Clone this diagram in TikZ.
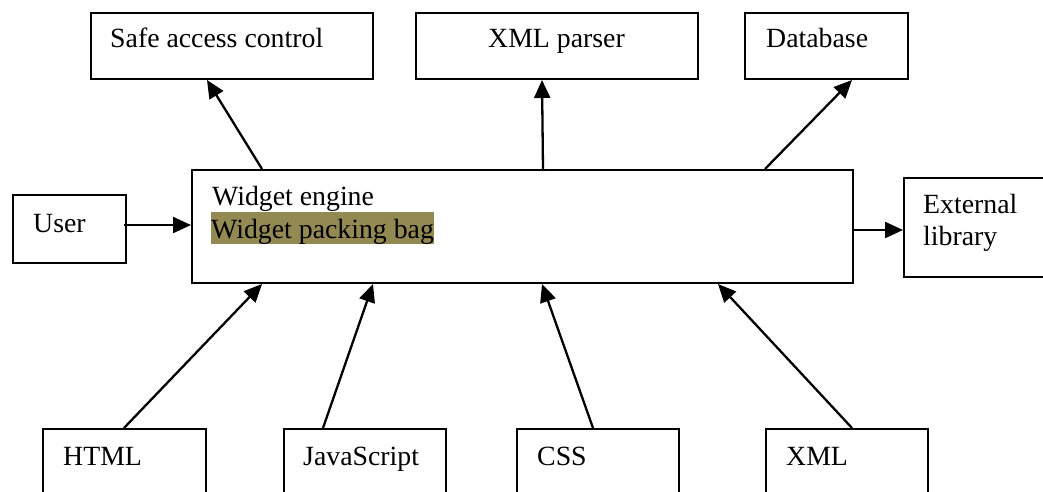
\documentclass[tikz,border=0pt]{standalone}
\usepackage{fontspec}
\setmainfont{Liberation Serif}
\usetikzlibrary{arrows.meta}
\definecolor{hl}{RGB}{147,137,83}
\begin{document}
\begin{tikzpicture}[x=1pt,y=-1pt,
  box/.style={draw=black,line width=2pt,rectangle,inner sep=0pt,anchor=north west},
  lbl/.style={anchor=base west,inner sep=0pt,font=\fontsize{27.8}{32}\selectfont},
  arr/.style={draw=black,line width=2.3pt,-{Triangle[length=18pt,width=16pt]}}]
\useasboundingbox (0,0) rectangle (1043,492);
\clip (0,0) rectangle (1043,492);
\fill[white] (0,0) rectangle (1043,492);
% boxes
\node[box,minimum width=282pt,minimum height=66pt] (sac) at (90,12) {};
\node[box,minimum width=282pt,minimum height=66pt] (xmlp) at (415,12) {};
\node[box,minimum width=163pt,minimum height=66pt] (db) at (744,12) {};
\node[box,minimum width=661pt,minimum height=113pt] (eng) at (191,169) {};
\node[box,minimum width=113pt,minimum height=68pt] (user) at (12,194) {};
\node[box,minimum width=160pt,minimum height=99pt] (ext) at (903,177) {};
\node[box,minimum width=163pt,minimum height=92pt] (html) at (42,428) {};
\node[box,minimum width=162pt,minimum height=92pt] (js) at (283,428) {};
\node[box,minimum width=162pt,minimum height=92pt] (css) at (516,428) {};
\node[box,minimum width=162pt,minimum height=92pt] (xml) at (765,428) {};
% texts
\node[lbl] (tsac) at (110,48) {Safe access control};
\node[lbl] (txmlp) at (488,48) {XML parser};
\node[lbl] (tdb) at (766,48) {Database};
\node[lbl] (tuser) at (33,232) {User};
\node[lbl] (teng) at (212,205) {Widget engine};
\node[lbl,fill=hl,text height=26pt,text depth=6pt] (tbag) at (211,238) {Widget packing bag};
\node[lbl] (text1) at (923,213) {External};
\node[lbl] (text2) at (923,245) {library};
\node[lbl] (thtml) at (63,465) {HTML};
\node[lbl] (tjs) at (303,465) {JavaScript};
\node[lbl] (tcss) at (537,465) {CSS};
\node[lbl] (txml) at (786,465) {XML};
% connectors
\draw[arr] ([xshift=71pt]eng.north west) -- ([xshift=117pt]sac.south west);
\draw[arr] ([xshift=352pt]eng.north west) -- ([xshift=127pt]xmlp.south west);
\draw[arr] ([xshift=574pt]eng.north west) -- ([xshift=108pt]db.south west);
\draw[arr] ([xshift=-3pt,yshift=4pt]user.east) -- ([yshift=4pt]user.east -| eng.west);
\draw[arr] ([yshift=-3.5pt]eng.east) -- ([yshift=-3.5pt]eng.east -| ext.west);
\draw[arr] ([xshift=82pt]html.north west) -- ([xshift=71pt]eng.south west);
\draw[arr] ([xshift=40pt]js.north west) -- ([xshift=182pt]eng.south west);
\draw[arr] ([xshift=77pt]css.north west) -- ([xshift=351pt]eng.south west);
\draw[arr] ([xshift=87pt]xml.north west) -- ([xshift=527pt]eng.south west);
\end{tikzpicture}
\end{document}
